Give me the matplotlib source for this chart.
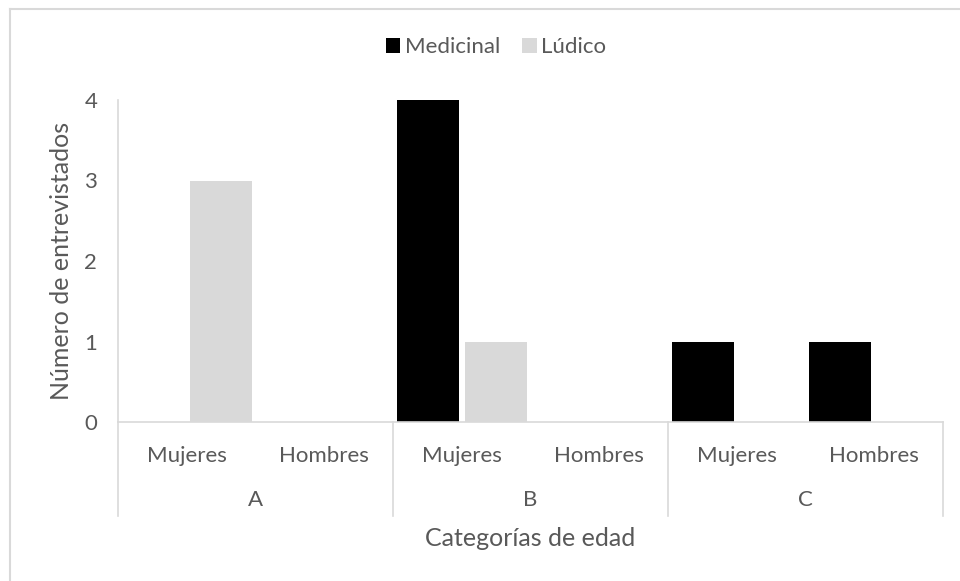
import numpy as np
import matplotlib.pyplot as plt
from matplotlib.lines import Line2D

# datos
grupos = ['A', 'B', 'C']
sexos = ['Mujeres', 'Hombres']
medicinal = [0, 0, 4, 0, 1, 1]
ludico = [3, 0, 1, 0, 0, 0]

gris_txt = '#595959'
gris_lin = '#d9d9d9'
plt.rcParams['font.family'] = ['Lato', 'DejaVu Sans']

fig = plt.figure(figsize=(9.6, 5.81), dpi=100)
ax = fig.add_axes([118 / 960, 1 - 422 / 581, (943 - 118) / 960, (422 - 100) / 581])

x = np.arange(len(medicinal))
w = 0.451
off = 0.2475
ax.bar(x - off, medicinal, w, color='black', label='Medicinal')
ax.bar(x + off, ludico, w, color=gris_lin, label='Lúdico')

ax.set_xlim(-0.5, len(medicinal) - 0.5)
ax.set_ylim(0, 4)
ax.set_yticks(range(5))
ax.tick_params(axis='y', length=0, pad=15, labelsize=16, labelcolor=gris_txt)
ax.set_xticks(x)
ax.set_xticklabels(sexos * len(grupos))
ax.tick_params(axis='x', length=0, pad=17, labelsize=16, labelcolor=gris_txt)

for s in ['top', 'right']:
    ax.spines[s].set_visible(False)
for s in ['left', 'bottom']:
    ax.spines[s].set_color(gris_lin)
    ax.spines[s].set_linewidth(1.2)

# segundo nivel del eje x
alto = 422 - 100
ancho = 943 - 118
trans = ax.get_xaxis_transform()
sep_bottom = -(516 - 422) / alto
for b in np.arange(-0.5, len(medicinal), 2):
    ax.add_line(Line2D([b, b], [0, sep_bottom], transform=trans, color=gris_lin,
                       lw=1.2, clip_on=False))
for i, g in enumerate(grupos):
    ax.text(2 * i + 0.5, -(500 - 422) / alto, g, transform=trans,
            ha='center', va='center', fontsize=16, color=gris_txt)

ax.set_xlabel('Categorías de edad', fontsize=18, color=gris_txt)
ax.xaxis.set_label_coords(0.5, -(539 - 422) / alto)
ax.xaxis.label.set_va('center')
ax.set_ylabel('Número de entrevistados', fontsize=18, color=gris_txt)
ax.yaxis.set_label_coords(-(118 - 62) / ancho, 0.5)
ax.yaxis.label.set_va('center')

fig.legend(loc='center', bbox_to_anchor=(496 / 960, 1 - 47 / 581), ncol=2, frameon=False,
           fontsize=16, labelcolor=gris_txt, handlelength=0.65, handleheight=0.65,
           handletextpad=0.2, columnspacing=1.0)

# borde del área del gráfico
fig.add_artist(Line2D([10 / 960, 1], [1 - 9 / 581] * 2, transform=fig.transFigure,
                      color=gris_lin, lw=1.5))
fig.add_artist(Line2D([10 / 960] * 2, [0, 1 - 9 / 581], transform=fig.transFigure,
                      color=gris_lin, lw=1.5))

fig.savefig('out.png', dpi=100)
